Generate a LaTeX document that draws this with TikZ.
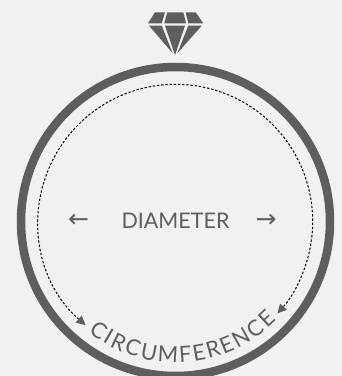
\documentclass[tikz,border=0pt]{standalone}
\usepackage{fontspec}
\setmainfont{Lato}
\newfontfamily\arrowfont{DejaVu Sans}
\usetikzlibrary{arrows.meta,calc}
\definecolor{bgc}{HTML}{F0F2F2}
\definecolor{ink}{HTML}{5E5E5E}
\newcommand{\curvefont}{\fontsize{22}{24}\selectfont}
\tikzset{
 gem/.style={fill=ink,draw=none},
 lab/.style={text=ink,font=\fontsize{21.5}{24}\selectfont,inner sep=0pt},
 curved/.style={text=ink,font=\curvefont,inner sep=0pt,anchor=base},
 arw/.style={text=ink,font=\arrowfont\fontsize{25}{24}\selectfont,inner sep=0pt},
 dashline/.style={black,line width=1pt,dash pattern=on 2.4pt off 1.8pt,{Triangle[length=9pt,width=9pt,color=ink]}-{Triangle[length=9pt,width=9pt,color=ink]}},
}
\begin{document}
\begin{tikzpicture}[x=1pt,y=1pt]
\fill[bgc] (0,0) rectangle (342,376);
\useasboundingbox (0,0) rectangle (342,376);
\coordinate (c) at (175.5,154.5);
\draw[ink,line width=8.5pt] (c) circle[radius=154.5];
\draw[dashline] (c) ++(229:137.2) arc[start angle=229,end angle=-42,radius=137.2];
\node[lab] (d) at (175.5,155.5) {DIAMETER};
\node[arw] (la) at (78.5,155) {←};
\node[arw] (ra) at (266,155) {→};
\gdef\curang{231.8}
\foreach \L/\W [count=\i] in {C/14.5,I/5.9,R/13.4,C/14.5,U/15.8,M/19.8,F/12.1,E/12.3,R/13.4,E/12.3,N/16.5,C/14.5,E/12.3} {
  \pgfmathsetmacro\ang{\curang+\W/2/141*57.2958}
  \node[curved,rotate=\ang+90] (t\i) at ($(c)+(\ang:141)$) {\L};
  \pgfmathsetmacro\nextang{\ang+(\W/2+2.4)/141*57.2958}
  \xdef\curang{\nextang}
}
\begin{scope}[yscale=-1,yshift=-376pt]
\fill[gem] (155,12.3) -- (165,12.3) -- (161.7,23.3) -- (148,23.3) -- cycle;
\fill[gem] (167.3,12.3) -- (183.3,12.3) -- (186,23.3) -- (164.3,23.3) -- cycle;
\fill[gem] (185.7,12.3) -- (195.7,12.3) -- (203.3,23.3) -- (188.3,23.3) -- cycle;
\fill[gem] (149,25.7) -- (161.7,25.7) -- (172.7,53.3) -- cycle;
\fill[gem] (165,25.7) -- (185,25.7) -- (175,55) -- cycle;
\fill[gem] (188.3,25.7) -- (201.7,25.7) -- (177.3,53.3) -- cycle;
\end{scope}
\end{tikzpicture}
\end{document}
